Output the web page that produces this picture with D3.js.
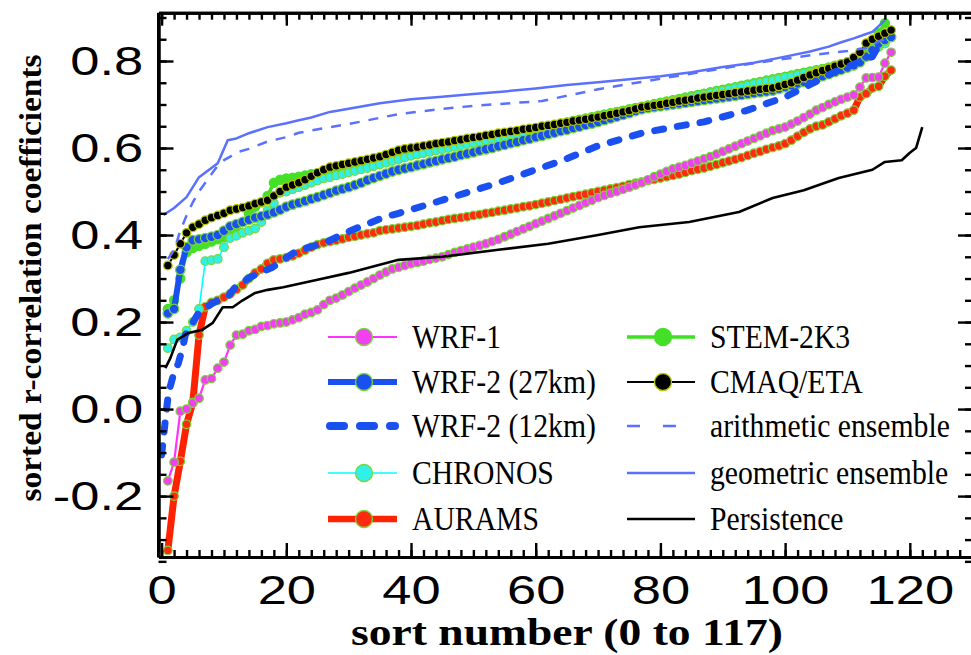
<!DOCTYPE html>
<html><head><meta charset="utf-8">
<script src="https://cdn.jsdelivr.net/npm/d3@7"></script>
<style>body{margin:0;background:#fff}svg{display:block}</style>
</head><body>
<svg id="c" width="971" height="655"></svg>
<script>
// ---------------- DATA ----------------
const yTicks = [-0.2, 0.0, 0.2, 0.4, 0.6, 0.8];
const xTicks = [0, 20, 40, 60, 80, 100, 120];
const yTitle = "sorted r-correlation coefficients";
const xTitle = "sort number (0 to 117)";

// marker series: values at sort number 1,2,3,...
const wrf1 = [-0.165,-0.122,-0.005,0.0,0.014,0.025,0.067,0.07,0.094,0.108,0.147,0.17,0.172,0.18,0.183,0.19,0.192,0.196,0.198,0.2,
0.205,0.21,0.218,0.222,0.228,0.24,0.25,0.255,0.262,0.27,0.278,0.285,0.292,0.3,0.308,0.315,0.322,0.326,0.33,0.334,
0.337,0.34,0.344,0.347,0.35,0.355,0.36,0.364,0.368,0.372,0.376,0.38,0.385,0.39,0.396,0.402,0.408,0.414,0.42,0.426,
0.432,0.438,0.444,0.45,0.456,0.462,0.468,0.474,0.48,0.486,0.491,0.496,0.5,0.505,0.51,0.515,0.52,0.527,0.534,0.54,
0.546,0.552,0.556,0.56,0.565,0.57,0.575,0.58,0.586,0.592,0.598,0.604,0.61,0.616,0.622,0.628,0.634,0.64,0.644,0.648,
0.655,0.662,0.67,0.678,0.687,0.693,0.7,0.706,0.712,0.717,0.722,0.74,0.761,0.762,0.763,0.795,0.82];

const aurams = [-0.325,-0.2,-0.12,-0.035,0.015,0.17,0.235,0.245,0.25,0.257,0.265,0.275,0.285,0.3,0.313,0.322,0.335,0.343,0.345,0.348,
0.352,0.358,0.365,0.372,0.378,0.382,0.385,0.388,0.391,0.395,0.397,0.4,0.403,0.405,0.41,0.412,0.414,0.416,0.418,0.42,
0.422,0.425,0.428,0.43,0.433,0.436,0.438,0.44,0.442,0.445,0.447,0.45,0.452,0.455,0.457,0.46,0.462,0.465,0.467,0.47,
0.473,0.476,0.479,0.482,0.485,0.488,0.491,0.494,0.497,0.5,0.503,0.506,0.509,0.512,0.516,0.519,0.522,0.525,0.528,0.531,
0.534,0.537,0.54,0.544,0.548,0.551,0.554,0.558,0.562,0.566,0.57,0.574,0.578,0.583,0.588,0.592,0.597,0.601,0.605,0.61,
0.618,0.627,0.636,0.644,0.65,0.653,0.66,0.667,0.674,0.68,0.687,0.717,0.725,0.738,0.742,0.765,0.779];

const wrf2_27 = [0.22,0.23,0.32,0.372,0.388,0.39,0.393,0.396,0.40,0.41,0.42,0.425,0.43,0.435,0.44,0.443,0.447,0.452,0.458,0.465,
0.47,0.474,0.478,0.483,0.487,0.492,0.497,0.502,0.506,0.51,0.515,0.52,0.526,0.531,0.536,0.541,0.546,0.55,0.553,0.556,
0.56,0.563,0.567,0.57,0.574,0.577,0.58,0.584,0.587,0.59,0.594,0.597,0.6,0.604,0.607,0.611,0.614,0.618,0.621,0.625,
0.628,0.632,0.635,0.639,0.642,0.646,0.649,0.653,0.656,0.66,0.664,0.668,0.672,0.676,0.68,0.685,0.689,0.692,0.694,0.696,
0.698,0.7,0.702,0.704,0.706,0.708,0.71,0.712,0.714,0.716,0.718,0.72,0.722,0.724,0.726,0.728,0.73,0.732,0.736,0.74,
0.744,0.748,0.752,0.756,0.76,0.765,0.77,0.775,0.78,0.785,0.79,0.797,0.81,0.825,0.84,0.848,0.855];

const chronos = [0.14,0.16,0.165,0.18,0.2,0.23,0.34,0.342,0.345,0.372,0.393,0.398,0.405,0.41,0.415,0.43,0.457,0.473,0.497,0.5,
0.505,0.51,0.515,0.52,0.525,0.53,0.533,0.537,0.54,0.544,0.547,0.551,0.554,0.558,0.562,0.566,0.57,0.574,0.578,0.582,
0.585,0.588,0.591,0.594,0.597,0.6,0.603,0.606,0.609,0.612,0.615,0.618,0.621,0.624,0.627,0.63,0.633,0.636,0.639,0.642,
0.645,0.648,0.651,0.654,0.657,0.66,0.663,0.666,0.669,0.672,0.675,0.678,0.681,0.684,0.687,0.69,0.693,0.696,0.699,0.702,
0.705,0.708,0.711,0.714,0.717,0.72,0.723,0.726,0.729,0.732,0.735,0.738,0.741,0.744,0.747,0.75,0.753,0.756,0.759,0.762,
0.765,0.768,0.771,0.774,0.777,0.78,0.783,0.786,0.789,0.792,0.796,0.8,0.81,0.82,0.832,0.84];

const stem2k3 = [0.23,0.25,0.3,0.36,0.37,0.375,0.38,0.385,0.39,0.395,0.4,0.41,0.43,0.45,0.465,0.475,0.49,0.52,0.527,0.53,
0.532,0.534,0.537,0.54,0.542,0.545,0.548,0.551,0.554,0.557,0.56,0.563,0.566,0.569,0.572,0.576,0.58,0.585,0.589,0.592,
0.596,0.599,0.602,0.605,0.607,0.61,0.612,0.615,0.617,0.62,0.622,0.625,0.627,0.63,0.632,0.635,0.637,0.64,0.642,0.645,
0.648,0.65,0.653,0.656,0.659,0.662,0.665,0.668,0.671,0.674,0.677,0.68,0.683,0.686,0.689,0.692,0.695,0.698,0.701,0.704,
0.707,0.71,0.713,0.716,0.719,0.722,0.725,0.728,0.731,0.734,0.737,0.74,0.743,0.746,0.749,0.752,0.755,0.758,0.761,0.764,
0.767,0.77,0.773,0.776,0.779,0.782,0.785,0.789,0.793,0.797,0.802,0.81,0.825,0.845,0.865,0.887];

const cmaq = [0.33,0.354,0.38,0.405,0.418,0.425,0.434,0.44,0.445,0.45,0.457,0.46,0.463,0.467,0.472,0.476,0.48,0.49,0.5,0.51,
0.515,0.52,0.527,0.535,0.543,0.55,0.556,0.559,0.562,0.565,0.568,0.571,0.574,0.577,0.58,0.585,0.59,0.595,0.598,0.6,
0.602,0.605,0.607,0.61,0.612,0.614,0.617,0.619,0.622,0.624,0.626,0.629,0.631,0.634,0.636,0.638,0.64,0.643,0.645,0.647,
0.65,0.652,0.654,0.657,0.659,0.662,0.664,0.666,0.669,0.671,0.674,0.677,0.68,0.683,0.686,0.69,0.694,0.696,0.698,0.7,
0.703,0.705,0.708,0.71,0.712,0.715,0.717,0.719,0.721,0.723,0.725,0.727,0.729,0.731,0.733,0.735,0.737,0.738,0.742,0.746,
0.75,0.756,0.762,0.768,0.773,0.778,0.783,0.788,0.793,0.798,0.808,0.82,0.841,0.85,0.857,0.864,0.871];

// line-only series: sort numbers and values read at those points
const wrf2_12_x = [0,0.6,1.1,1.8,2.7,3.4,3.8,4.6,5.9,8.2,10.6,11.8,14.2,17.8,21.8,26,30.3,35.5,38,45,54,64,70,77,82,87,94,100,108,114,115.5];
const wrf2_12_y = [-0.105,-0.025,0.037,0.074,0.106,0.143,0.17,0.19,0.22,0.244,0.258,0.28,0.303,0.326,0.365,0.381,0.41,0.44,0.45,0.48,0.52,0.57,0.605,0.634,0.648,0.66,0.687,0.717,0.775,0.81,0.848];

const arith_x = [1,2,3,4,5,6,7,8,9,10,11,12,14,17,20,22,27,30,38,45,50,61,70,77,87,95,100,105,110,113,115,116];
const arith_y = [0.345,0.365,0.41,0.445,0.475,0.5,0.52,0.54,0.56,0.572,0.58,0.59,0.598,0.615,0.625,0.635,0.648,0.655,0.678,0.69,0.697,0.708,0.735,0.752,0.776,0.795,0.805,0.815,0.823,0.83,0.845,0.85];

const geom_x = [0.3,2,4,6,9,10.6,12,14,17,20,22,24,27,30,35,40,45,50,55,60,65,70,75,80,85,90,95,100,104,107,109,111,113,114,115,116];
const geom_y = [0.446,0.462,0.487,0.533,0.565,0.618,0.622,0.634,0.648,0.657,0.664,0.67,0.683,0.69,0.703,0.712,0.718,0.724,0.73,0.737,0.745,0.751,0.758,0.765,0.774,0.786,0.796,0.81,0.822,0.833,0.843,0.852,0.862,0.867,0.88,0.894];

const persist_x = [0.6,1.4,2.5,4.3,6.5,8.2,9.8,11.4,13,15,17,19.5,25,30,38,45,54,62,70,76.6,84.6,92.6,98,103,108.6,114,116,118.7,120,121,122];
const persist_y = [0.094,0.117,0.159,0.175,0.182,0.198,0.234,0.234,0.25,0.267,0.274,0.28,0.297,0.313,0.343,0.35,0.366,0.38,0.4,0.418,0.43,0.453,0.485,0.503,0.531,0.55,0.568,0.572,0.589,0.6,0.648];

// ---------------- STYLE ----------------
const OUT = "#7ad63a";
const styles = {
  "WRF-1":            {color:"#ff33ff", width:2.2, r:4.3, mfill:"#f040f0", mstroke:OUT},
  "WRF-2 (27km)":     {color:"#1a50f0", width:6,   r:4.8, mfill:"#1a50f0", mstroke:OUT},
  "WRF-2 (12km)":     {color:"#1a50f0", width:7,   dash:"9,14", cap:"round"},
  "CHRONOS":          {color:"#00ffff", width:1.6, r:4.3, mfill:"#30f0e8", mstroke:OUT},
  "AURAMS":           {color:"#ff2200", width:7,   r:4.3, mfill:"#ff2a10", mstroke:OUT},
  "STEM-2K3":         {color:"#3de022", width:3.5, r:4.6, mfill:"#44e028", mstroke:"#44e028"},
  "CMAQ/ETA":         {color:"#000000", width:2,   r:4.3, mfill:"#000000", mstroke:"#b5c800"},
  "arithmetic ensemble": {color:"#5a70ff", width:2.5, dash:"10,9"},
  "geometric ensemble":  {color:"#5a70ff", width:2.5},
  "Persistence":      {color:"#000000", width:2.6}
};

const idx = arr => arr.map((v,i)=>[i+1, v]);
const pair = (xs, ys) => xs.map((x,i)=>[x, ys[i]]);
const seriesData = {
  "WRF-1": idx(wrf1),
  "WRF-2 (27km)": idx(wrf2_27),
  "WRF-2 (12km)": pair(wrf2_12_x, wrf2_12_y),
  "CHRONOS": idx(chronos),
  "AURAMS": idx(aurams),
  "STEM-2K3": idx(stem2k3),
  "CMAQ/ETA": idx(cmaq),
  "arithmetic ensemble": pair(arith_x, arith_y),
  "geometric ensemble": pair(geom_x, geom_y),
  "Persistence": pair(persist_x, persist_y)
};
const legendLeft = ["WRF-1","WRF-2 (27km)","WRF-2 (12km)","CHRONOS","AURAMS"];
const legendRight = ["STEM-2K3","CMAQ/ETA","arithmetic ensemble","geometric ensemble","Persistence"];
const drawOrder = ["AURAMS","WRF-1","STEM-2K3","CHRONOS","WRF-2 (27km)","CMAQ/ETA","WRF-2 (12km)","Persistence","arithmetic ensemble","geometric ensemble"];

// ---------------- CHART ----------------
const svg = d3.select("#c");
const L = 158.5, R = 973, T = 12.7, B = 557;
const x = d3.scaleLinear().domain([-0.5, 130]).range([L, L + 130.5*6.235]);
const y = d3.scaleLinear().domain([-0.34, 0.911]).range([B, T]);

svg.append("rect").attr("width",971).attr("height",655).attr("fill","#fff");

const plot = svg.append("g");
const line = d3.line().x(d=>x(d[0])).y(d=>y(d[1]));

drawOrder.forEach(name => {
  const s = styles[name], d = seriesData[name];
  plot.append("path").datum(d).attr("d", line)
    .attr("fill","none").attr("stroke", s.color).attr("stroke-width", s.width)
    .attr("stroke-linejoin","round")
    .attr("stroke-linecap", s.cap || "butt")
    .attr("stroke-dasharray", s.dash || null);
  if (s.r) {
    plot.append("g").selectAll("circle").data(d).join("circle")
      .attr("cx", p=>x(p[0])).attr("cy", p=>y(p[1])).attr("r", s.r)
      .attr("fill", s.mfill).attr("stroke", s.mstroke).attr("stroke-width", 1.2);
  }
});

// ---------------- AXES ----------------
const yMinor = d3.range(-0.35, 0.91, 0.05).map(v=>+v.toFixed(2));
const xMinor = d3.range(0, 131, 2);
const SX = 1.28; // horizontal stretch of the tick-label glyphs
function styleAxis(g){
  g.select(".domain").attr("stroke","#000").attr("stroke-width",3);
  g.selectAll(".tick line").attr("stroke","#000").attr("stroke-width",2.4);
}
const fmt = d => d.toFixed(1);
// left
svg.append("g").attr("transform",`translate(${L},0)`)
  .call(d3.axisLeft(y).tickValues(yMinor).tickSize(-8).tickSizeOuter(0).tickFormat("")).call(styleAxis);
svg.append("g").attr("transform",`translate(${L},0)`)
  .call(d3.axisLeft(y).tickValues(yTicks).tickSize(-15).tickSizeOuter(0).tickPadding(12).tickFormat(fmt))
  .call(styleAxis)
  .call(g=>g.selectAll("text").attr("font-family","Liberation Sans, Arial, sans-serif").attr("font-size",41)
      .attr("fill","#000").attr("transform",`scale(${SX},1)`));
// right
svg.append("g").attr("transform",`translate(${R},0)`)
  .call(d3.axisRight(y).tickValues(yMinor).tickSize(-8).tickSizeOuter(0).tickFormat("")).call(styleAxis);
svg.append("g").attr("transform",`translate(${R},0)`)
  .call(d3.axisRight(y).tickValues(yTicks).tickSize(-15).tickSizeOuter(0).tickFormat("")).call(styleAxis);
// bottom
svg.append("g").attr("transform",`translate(0,${B})`)
  .call(d3.axisBottom(x).tickValues(xMinor).tickSize(-7).tickSizeOuter(0).tickFormat("")).call(styleAxis);
svg.append("g").attr("transform",`translate(0,${B})`)
  .call(d3.axisBottom(x).tickValues(xTicks).tickSize(-14).tickSizeOuter(0).tickPadding(18).tickFormat(d=>String(d)))
  .call(styleAxis)
  .call(g=>g.selectAll("text").attr("font-family","Liberation Sans, Arial, sans-serif").attr("font-size",41)
      .attr("fill","#000").attr("transform",`scale(${SX},1)`));
// top
svg.append("g").attr("transform",`translate(0,${T})`)
  .call(d3.axisTop(x).tickValues(xMinor).tickSize(-7).tickSizeOuter(0).tickFormat("")).call(styleAxis);
svg.append("g").attr("transform",`translate(0,${T})`)
  .call(d3.axisTop(x).tickValues(xTicks).tickSize(-13).tickSizeOuter(0).tickFormat("")).call(styleAxis);
svg.append("line").attr("x1",L).attr("x2",L).attr("y1",T).attr("y2",B).attr("stroke","#000").attr("stroke-width",3);

// titles
svg.append("text").attr("transform","translate(41,278) rotate(-90)")
  .attr("text-anchor","middle").attr("font-family","Liberation Serif, Times New Roman, serif")
  .attr("font-weight","bold").attr("font-size",31).attr("textLength",447).attr("lengthAdjust","spacingAndGlyphs")
  .text(yTitle);
svg.append("text").attr("x",567).attr("y",645)
  .attr("text-anchor","middle").attr("font-family","Liberation Serif, Times New Roman, serif")
  .attr("font-weight","bold").attr("font-size",38).attr("textLength",432).attr("lengthAdjust","spacingAndGlyphs")
  .text(xTitle);

// ---------------- LEGEND ----------------
const rowY = [337, 382, 426, 473, 519];
function legendCol(names, x0, x1, mx, tx){
  names.forEach((name,i)=>{
    const s = styles[name], yy = rowY[i];
    const g = svg.append("g");
    if (name === "WRF-2 (12km)") {
      g.append("line").attr("x1",x0+2).attr("x2",x1-2).attr("y1",yy).attr("y2",yy)
        .attr("stroke",s.color).attr("stroke-width",8).attr("stroke-linecap","round").attr("stroke-dasharray","14,16");
    } else {
      g.append("line").attr("x1",x0).attr("x2",x1).attr("y1",yy).attr("y2",yy)
        .attr("stroke",s.color).attr("stroke-width", Math.min(s.width,6.5))
        .attr("stroke-dasharray", name==="arithmetic ensemble" ? "13,23" : null);
    }
    if (s.r) g.append("circle").attr("cx",mx).attr("cy",yy).attr("r",8.5)
      .attr("fill",s.mfill).attr("stroke",s.mstroke).attr("stroke-width",1.3);
    g.append("text").attr("transform",`translate(${tx},${yy+11}) scale(0.9,1)`)
      .attr("font-family","Liberation Serif, Times New Roman, serif")
      .attr("font-size",33).attr("fill","#000").text(name);
  });
}
legendCol(legendLeft, 328, 397, 364, 412);
legendCol(legendRight, 627, 695, 663, 710);
</script>
</body></html>
